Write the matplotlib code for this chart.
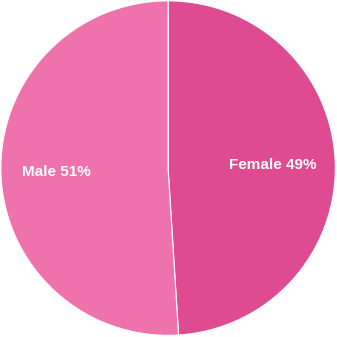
import matplotlib
matplotlib.use("Agg")
import matplotlib.pyplot as plt
import numpy as np

categories = ["Female", "Male"]
values = [49, 51]
colors = ["#DF4B90", "#EE72AC"]

fig = plt.figure(figsize=(3.37, 3.37), dpi=100)
ax = fig.add_axes([0, 0, 1, 1])
wedges, texts = ax.pie(values, colors=colors, startangle=90, counterclock=False,
                       labels=[f"{c} {v}%" for c, v in zip(categories, values)],
                       labeldistance=0.63, radius=1.0,
                       wedgeprops=dict(edgecolor="white", linewidth=0.8),
                       textprops=dict(color="white", fontsize=11, fontweight="bold",
                                      family="Liberation Sans", ha="center", va="center"))
dists = [0.625, 0.67]
for w, t, d in zip(wedges, texts, dists):
    ang = np.deg2rad((w.theta1 + w.theta2) / 2)
    t.set_position((d * np.cos(ang), d * np.sin(ang)))
    t.set_ha("center")
ax.set_xlim(-1.005, 1.01)
ax.set_ylim(-1.01, 1.005)
ax.set_aspect("equal")
ax.axis("off")
fig.savefig("out.png", dpi=100, facecolor="white")
